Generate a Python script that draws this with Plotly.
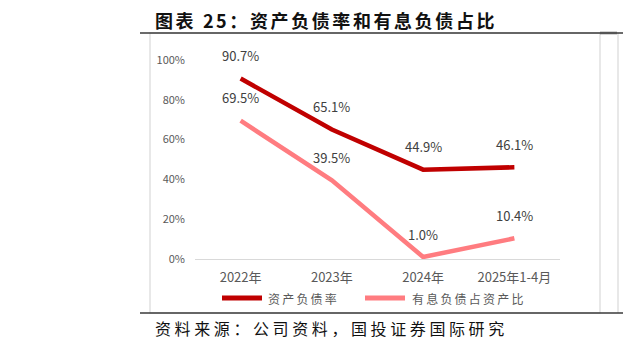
import plotly.graph_objects as go

# Data
periods = ["2022年", "2023年", "2024年", "2025年1-4月"]
asset_liability_ratio = [90.7, 65.1, 44.9, 46.1]
interest_debt_ratio = [69.5, 39.5, 1.0, 10.4]
series_names = ["资产负债率", "有息负债占资产比"]
series_colors = ["#C00000", "#FF7C80"]
y_ticks = [0, 20, 40, 60, 80, 100]
y_tick_text = ["0%", "20%", "40%", "60%", "80%", "100%"]

title_text = "图表 25：资产负债率和有息负债占比"
source_text = "资料来源：公司资料，国投证券国际研究"

W, H = 623, 348
L, R, T, B = 195, 63, 60, 89
PW, PH = W - L - R, H - T - B


def px(x):
    return (x - L) / PW


def py(y):
    return (H - B - y) / PH


FONT = "Noto Sans CJK SC"

fig = go.Figure()
for vals, name, color in zip([asset_liability_ratio, interest_debt_ratio], series_names, series_colors):
    fig.add_trace(go.Scatter(
        x=periods, y=vals, mode="lines", name=name,
        line=dict(color=color, width=4.5), showlegend=False,
        cliponaxis=False, hoverinfo="skip",
    ))
    for p, v in zip(periods, vals):
        fig.add_annotation(
            x=p, y=v, xref="x", yref="y", text=f"{v:.1f}%", showarrow=False,
            yshift=23, font=dict(family=FONT, size=13, color="#404040"),
        )

shapes = []
# chart frame
shapes.append(dict(type="rect", xref="paper", yref="paper",
                   x0=px(150), x1=px(600), y0=py(313), y1=py(33),
                   line=dict(color="#D9D9D9", width=1.2), layer="below"))
shapes.append(dict(type="line", xref="paper", yref="paper",
                   x0=px(618), x1=px(618), y0=py(313), y1=py(33),
                   line=dict(color="#D9D9D9", width=1.2)))
# page rules
for yy in (33, 313):
    shapes.append(dict(type="line", xref="paper", yref="paper",
                       x0=px(140), x1=px(623), y0=py(yy), y1=py(yy),
                       line=dict(color="#3A3A3A", width=1.5)))
shapes.append(dict(type="line", xref="paper", yref="paper",
                   x0=px(600), x1=px(617), y0=py(33), y1=py(33),
                   line=dict(color="#555555", width=2.5)))

# legend
legend_pos = [(222, 266), (365, 410)]
for (x0, tx), name, color in zip(legend_pos, series_names, series_colors):
    shapes.append(dict(type="line", xref="paper", yref="paper",
                       x0=px(x0), x1=px(x0 + 40), y0=py(298), y1=py(298),
                       line=dict(color=color, width=5)))
    fig.add_annotation(x=px(tx), y=py(298), xref="paper", yref="paper",
                       xanchor="left", yanchor="middle", showarrow=False,
                       text=f'<span style="letter-spacing:2.2px">{name}</span>',
                       font=dict(family=FONT, size=12, color="#595959"))

fig.add_annotation(x=px(153), y=py(20), xref="paper", yref="paper",
                   xanchor="left", yanchor="middle", showarrow=False,
                   text=f'<b><span style="letter-spacing:2.6px">{title_text}</span></b>',
                   font=dict(family=FONT, size=18, color="#111111"))
fig.add_annotation(x=px(153), y=py(328), xref="paper", yref="paper",
                   xanchor="left", yanchor="middle", showarrow=False,
                   text=f'<span style="letter-spacing:3.6px">{source_text}</span>',
                   font=dict(family=FONT, size=16, color="#111111"))

fig.update_layout(
    width=W, height=H, margin=dict(l=L, r=R, t=T, b=B),
    paper_bgcolor="white", plot_bgcolor="white",
    shapes=shapes,
    xaxis=dict(type="category", range=[-0.5, 3.5], showgrid=False,
               showline=True, linecolor="#D9D9D9", linewidth=1.2,
               ticks="", tickfont=dict(family=FONT, size=13, color="#595959"),
               ticklabelstandoff=6, zeroline=False),
    yaxis=dict(range=[0, 100], tickvals=y_ticks, ticktext=y_tick_text,
               showgrid=False, zeroline=False, showline=False, ticks="",
               tickfont=dict(family=FONT, size=11, color="#595959"),
               ticklabelstandoff=9),
)

fig.write_html("out.html")
